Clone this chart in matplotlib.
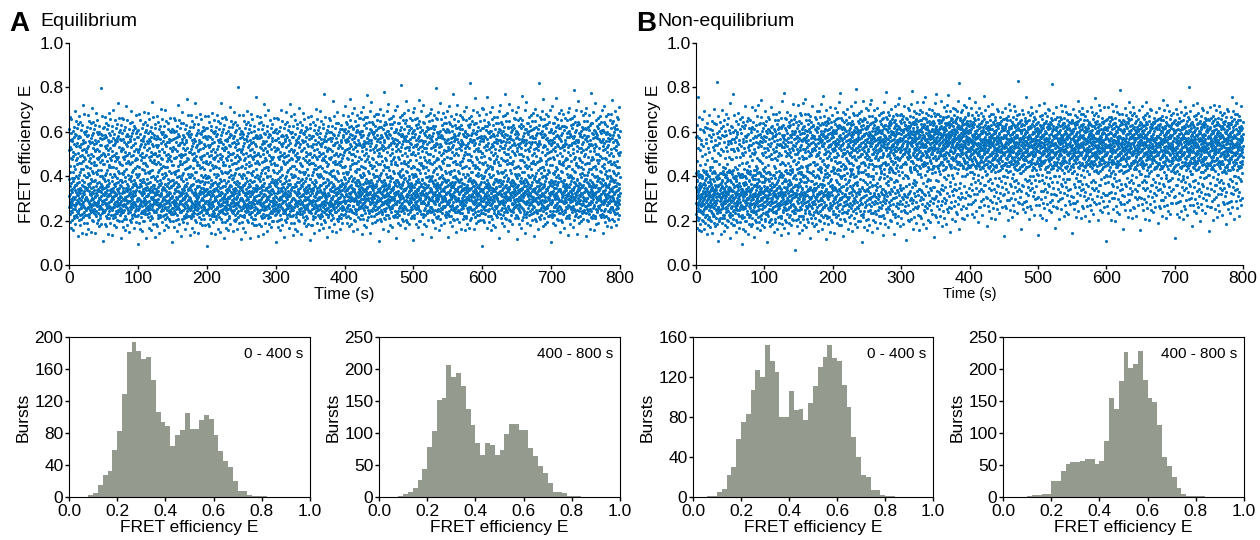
import matplotlib
matplotlib.use("Agg")
import matplotlib.pyplot as plt
import numpy as np

plt.rcParams['font.family'] = ['Liberation Sans', 'DejaVu Sans']

# === DATA (histogram counts, bins of 0.02 in E) ===
BIN_EDGES = np.round(np.arange(0.0, 1.0001, 0.02), 2)

eq_early = [0, 0, 0, 0, 2, 5, 15, 28, 32, 59, 83, 129, 181, 194, 182, 172, 175, 146,
            106, 94, 89, 64, 78, 84, 105, 85, 85, 96, 102, 97, 78, 57, 45, 37, 20,
            7, 8, 2, 1, 1, 1, 0, 0, 0, 0, 0, 0, 0, 0, 0]
eq_late = [0, 0, 0, 0, 1, 4, 8, 14, 27, 44, 78, 103, 151, 154, 206, 188, 193, 174,
           137, 112, 84, 66, 84, 81, 66, 74, 99, 114, 114, 105, 105, 77, 64, 49, 37,
           22, 8, 8, 6, 2, 2, 1, 0, 0, 0, 0, 0, 0, 0, 0]
neq_early = [0, 0, 0, 1, 1, 5, 8, 22, 30, 58, 75, 83, 107, 127, 120, 152, 136, 125,
             80, 80, 106, 87, 88, 77, 94, 111, 130, 140, 152, 139, 136, 112, 90, 60,
             40, 22, 20, 7, 7, 2, 1, 1, 0, 0, 0, 0, 0, 0, 0, 0]
neq_late = [0, 0, 0, 0, 0, 1, 3, 3, 5, 5, 25, 25, 40, 51, 54, 54, 56, 59, 60, 52, 57,
            87, 155, 138, 182, 226, 202, 208, 228, 183, 155, 148, 112, 63, 48, 32,
            14, 4, 1, 1, 2, 1, 0, 0, 0, 0, 0, 0, 0, 0]

WINDOWS = ["0 - 400 s", "400 - 800 s"]
HIST_YMAX = [200, 250, 160, 250]
HIST_YSTEP = [40, 50, 40, 50]

SCATTER_COLOR = '#0072BD'
HIST_COLOR = '#959a8f'
DRIFT = 0.6  # how strongly the low-E state fades during the first non-eq window


def vdc(n, base):
    # radical inverse, used only to spread bursts inside a bin / window
    out, denom = 0.0, 1.0
    while n:
        n, rem = divmod(n, base)
        denom *= base
        out += rem / denom
    return out


def bursts_from_hist(counts, t0, shift=False):
    E, T = [], []
    j = 1
    c = DRIFT
    for b, n in enumerate(counts):
        left = BIN_EDGES[b]
        for _ in range(n):
            e = left + 0.02 * vdc(j, 3)
            x = vdc(j, 2)
            if shift:
                # linear density ramp: low-E bursts thin out, high-E bursts fill in
                if e < 0.43:
                    u = ((1 + c) - np.sqrt((1 + c) ** 2 - 4 * c * x)) / (2 * c)
                else:
                    u = (-(1 - c) + np.sqrt((1 - c) ** 2 + 4 * c * x)) / (2 * c)
            else:
                u = x
            E.append(e)
            T.append(t0 + 400 * u)
            j += 1
    return np.array(T), np.array(E)


# === FIGURE ===
W, H = 1260, 540
fig = plt.figure(figsize=(W / 100, H / 100), dpi=100)


def px_axes(x0, y0, x1, y1):
    return fig.add_axes([x0 / W, 1 - y1 / H, (x1 - x0) / W, (y1 - y0) / H])


def style_scatter(ax, small_xlabel=False):
    ax.set_xlim(0, 800)
    ax.set_ylim(0, 1)
    ax.set_xticks(range(0, 801, 100))
    ax.set_yticks(np.arange(0, 1.01, 0.2))
    ax.set_yticklabels([f"{v:.1f}" for v in np.arange(0, 1.01, 0.2)])
    ax.spines['top'].set_visible(False)
    ax.spines['right'].set_visible(False)
    ax.tick_params(labelsize=12.5, length=3, width=1, pad=1)
    ax.set_ylabel("FRET efficiency E", fontsize=12.5, labelpad=4)
    ax.set_xlabel("Time (s)", fontsize=10.5 if small_xlabel else 12, labelpad=1)


def draw_scatter(ax, early, late, shift):
    t1, e1 = bursts_from_hist(early, 0, shift)
    t2, e2 = bursts_from_hist(late, 400)
    ax.scatter(np.r_[t1, t2], np.r_[e1, e2], s=5, color=SCATTER_COLOR,
               linewidths=0, clip_on=False)


def draw_hist(ax, counts, label, ymax, ystep):
    ax.stairs(counts, BIN_EDGES, fill=True, color=HIST_COLOR, linewidth=0)
    ax.set_xlim(0, 1)
    ax.set_ylim(0, ymax)
    ax.set_xticks(np.arange(0, 1.01, 0.2))
    ax.set_xticklabels([f"{v:.1f}" for v in np.arange(0, 1.01, 0.2)])
    ax.set_yticks(range(0, ymax + 1, ystep))
    ax.tick_params(labelsize=12.5, length=3, width=1)
    ax.tick_params(axis='x', pad=2)
    ax.tick_params(axis='y', pad=1)
    ax.set_xlabel("FRET efficiency E", fontsize=12.5, labelpad=1)
    ax.set_ylabel("Bursts", fontsize=12.5, labelpad=3)
    ax.text(0.97, 0.94, label, transform=ax.transAxes, ha='right', va='top', fontsize=11)


axA = px_axes(69, 43, 620, 265)
draw_scatter(axA, eq_early, eq_late, False)
style_scatter(axA)

axB = px_axes(696, 43, 1243, 265)
draw_scatter(axB, neq_early, neq_late, True)
style_scatter(axB, small_xlabel=True)

fig.text(9 / W, 1 - 24 / H, "A", fontsize=20, fontweight='bold', va='center')
fig.text(40 / W, 1 - 21 / H, "Equilibrium", fontsize=14, va='center')
fig.text(636 / W, 1 - 24 / H, "B", fontsize=20, fontweight='bold', va='center')
fig.text(657 / W, 1 - 21 / H, "Non-equilibrium", fontsize=14, va='center')

hist_boxes = [(69, 337, 310, 497), (379, 337, 620, 497),
              (693, 337, 933, 497), (1003, 337, 1244, 497)]
all_counts = [eq_early, eq_late, neq_early, neq_late]
for k, box in enumerate(hist_boxes):
    ax = px_axes(*box)
    draw_hist(ax, all_counts[k], WINDOWS[k % 2], HIST_YMAX[k], HIST_YSTEP[k])

fig.savefig("out.png", dpi=100)
